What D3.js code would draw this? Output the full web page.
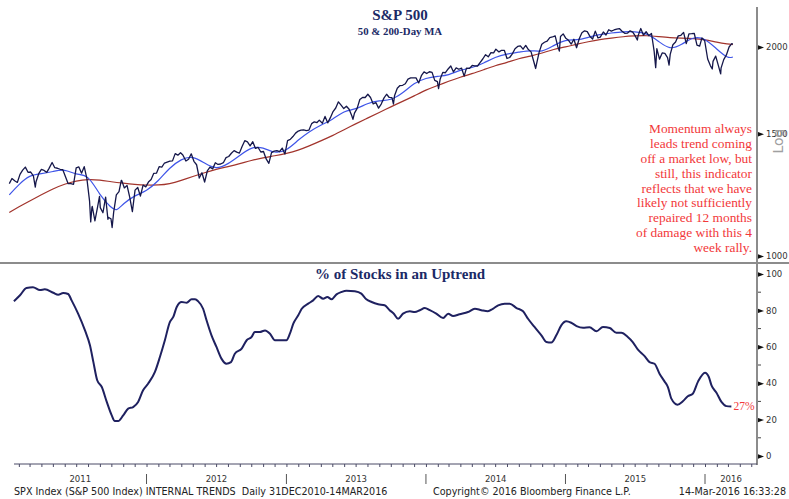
<!DOCTYPE html>
<html lang="en">
  <head>
    <meta charset="utf-8">
    <title>S&P 500 - Internal Trends</title>
    <script src="https://cdn.jsdelivr.net/npm/d3@7"></script>
    <style>
      body { margin: 0; background: white; }
    </style>
  </head>

  <body>
    <div id="container"></div>
  </body>

<script>
    // weekly closes of the S&P 500 (plus a few daily extremes)
    const spx2011 = [
      ["2011-01-07",1271.5],["2011-01-14",1293.2],["2011-01-21",1283.4],["2011-01-28",1276.3],
      ["2011-02-04",1310.9],["2011-02-11",1329.2],["2011-02-18",1343.0],["2011-02-25",1319.9],
      ["2011-03-04",1321.2],["2011-03-11",1304.3],["2011-03-16",1256.9],["2011-03-18",1279.2],["2011-03-25",1313.8],
      ["2011-04-01",1332.4],["2011-04-08",1328.2],["2011-04-15",1319.7],["2011-04-21",1337.4],["2011-04-29",1363.6],
      ["2011-05-06",1340.2],["2011-05-13",1337.8],["2011-05-20",1333.3],["2011-05-27",1331.1],
      ["2011-06-03",1300.2],["2011-06-10",1271.0],["2011-06-17",1271.5],["2011-06-24",1268.5],
      ["2011-07-01",1339.7],["2011-07-08",1343.8],["2011-07-15",1316.1],["2011-07-22",1345.0],["2011-07-29",1292.3],
      ["2011-08-05",1199.4],["2011-08-08",1119.5],["2011-08-11",1172.6],["2011-08-12",1178.8],["2011-08-19",1123.5],
      ["2011-08-26",1176.8],["2011-08-31",1218.9],["2011-09-02",1174.0],["2011-09-09",1154.2],["2011-09-16",1216.0],
      ["2011-09-22",1129.6],["2011-09-23",1136.4],["2011-09-30",1131.4],["2011-10-03",1099.2],["2011-10-07",1155.5],
      ["2011-10-14",1224.6],["2011-10-21",1238.3],["2011-10-27",1284.6],["2011-10-28",1285.1],
      ["2011-11-04",1253.2],["2011-11-11",1263.9],["2011-11-18",1215.7],["2011-11-25",1158.7],
      ["2011-12-02",1244.3],["2011-12-09",1255.2],["2011-12-16",1219.7],["2011-12-23",1265.3],["2011-12-30",1257.6]
    ];
    const spx2012 = [
      ["2012-01-06",1277.8],["2012-01-13",1289.1],["2012-01-20",1315.4],["2012-01-27",1316.3],
      ["2012-02-03",1344.9],["2012-02-10",1342.6],["2012-02-17",1361.2],["2012-02-24",1365.7],
      ["2012-03-02",1369.6],["2012-03-09",1370.9],["2012-03-16",1404.2],["2012-03-23",1397.1],["2012-03-30",1408.5],
      ["2012-04-05",1398.1],["2012-04-13",1370.3],["2012-04-20",1378.5],["2012-04-27",1403.4],
      ["2012-05-04",1369.1],["2012-05-11",1353.4],["2012-05-18",1295.2],["2012-05-25",1317.8],
      ["2012-06-01",1278.0],["2012-06-08",1325.7],["2012-06-15",1342.8],["2012-06-22",1335.0],["2012-06-29",1362.2],
      ["2012-07-06",1354.7],["2012-07-13",1356.8],["2012-07-20",1362.7],["2012-07-27",1386.0],
      ["2012-08-03",1391.0],["2012-08-10",1405.9],["2012-08-17",1418.2],["2012-08-24",1411.1],["2012-08-31",1406.6],
      ["2012-09-07",1437.9],["2012-09-14",1465.8],["2012-09-21",1460.2],["2012-09-28",1440.7],
      ["2012-10-05",1460.9],["2012-10-12",1428.6],["2012-10-19",1433.2],["2012-10-26",1411.9],
      ["2012-11-02",1414.2],["2012-11-09",1379.9],["2012-11-16",1359.9],["2012-11-23",1409.2],["2012-11-30",1416.2],
      ["2012-12-07",1418.1],["2012-12-14",1413.6],["2012-12-21",1430.2],["2012-12-28",1402.4]
    ];
    const spx2013 = [
      ["2013-01-04",1466.5],["2013-01-11",1472.1],["2013-01-18",1486.0],["2013-01-25",1503.0],
      ["2013-02-01",1513.2],["2013-02-08",1517.9],["2013-02-15",1519.8],["2013-02-22",1515.6],
      ["2013-03-01",1518.2],["2013-03-08",1551.2],["2013-03-15",1560.7],["2013-03-22",1556.9],["2013-03-28",1569.2],
      ["2013-04-05",1553.3],["2013-04-12",1588.9],["2013-04-19",1555.3],["2013-04-26",1582.2],
      ["2013-05-03",1614.4],["2013-05-10",1633.7],["2013-05-17",1667.5],["2013-05-24",1649.6],["2013-05-31",1630.7],
      ["2013-06-07",1643.4],["2013-06-14",1626.7],["2013-06-21",1592.4],["2013-06-24",1573.1],["2013-06-28",1606.3],
      ["2013-07-05",1631.9],["2013-07-12",1680.2],["2013-07-19",1692.1],["2013-07-26",1691.7],
      ["2013-08-02",1709.7],["2013-08-09",1691.4],["2013-08-16",1655.8],["2013-08-23",1663.5],["2013-08-30",1633.0],
      ["2013-09-06",1655.2],["2013-09-13",1688.0],["2013-09-20",1709.9],["2013-09-27",1691.8],
      ["2013-10-04",1690.5],["2013-10-08",1655.5],["2013-10-11",1703.2],["2013-10-18",1744.5],["2013-10-25",1759.8],
      ["2013-11-01",1761.6],["2013-11-08",1770.6],["2013-11-15",1798.2],["2013-11-22",1804.8],["2013-11-29",1805.8],
      ["2013-12-06",1805.1],["2013-12-13",1775.3],["2013-12-20",1818.3],["2013-12-27",1841.4]
    ];
    const spx2014 = [
      ["2014-01-03",1831.4],["2014-01-10",1842.4],["2014-01-17",1838.7],["2014-01-24",1790.3],["2014-01-31",1782.6],
      ["2014-02-03",1741.9],["2014-02-07",1797.0],["2014-02-14",1838.6],["2014-02-21",1836.3],["2014-02-28",1859.5],
      ["2014-03-07",1878.0],["2014-03-14",1841.1],["2014-03-21",1866.5],["2014-03-28",1857.6],
      ["2014-04-04",1865.1],["2014-04-11",1815.7],["2014-04-17",1864.9],["2014-04-25",1863.4],
      ["2014-05-02",1881.1],["2014-05-09",1878.5],["2014-05-16",1877.9],["2014-05-23",1900.5],["2014-05-30",1923.6],
      ["2014-06-06",1949.4],["2014-06-13",1936.2],["2014-06-20",1962.9],["2014-06-27",1961.0],
      ["2014-07-03",1985.4],["2014-07-11",1967.6],["2014-07-18",1978.2],["2014-07-25",1978.3],
      ["2014-08-01",1925.2],["2014-08-08",1931.6],["2014-08-15",1955.1],["2014-08-22",1988.4],["2014-08-29",2003.4],
      ["2014-09-05",2007.7],["2014-09-12",1985.5],["2014-09-19",2010.4],["2014-09-26",1982.9],
      ["2014-10-03",1967.9],["2014-10-10",1906.1],["2014-10-15",1862.5],["2014-10-17",1886.8],["2014-10-24",1964.6],["2014-10-31",2018.1],
      ["2014-11-07",2031.9],["2014-11-14",2039.8],["2014-11-21",2063.5],["2014-11-28",2067.6],
      ["2014-12-05",2075.4],["2014-12-12",2002.3],["2014-12-16",1972.7],["2014-12-19",2070.7],["2014-12-26",2088.8]
    ];
    const spx2015 = [
      ["2015-01-02",2058.2],["2015-01-09",2044.8],["2015-01-16",2019.4],["2015-01-23",2051.8],["2015-01-30",1995.0],
      ["2015-02-06",2055.5],["2015-02-13",2097.0],["2015-02-20",2110.3],["2015-02-27",2104.5],
      ["2015-03-06",2071.3],["2015-03-13",2053.4],["2015-03-20",2108.1],["2015-03-27",2061.0],
      ["2015-04-02",2067.0],["2015-04-10",2102.1],["2015-04-17",2081.2],["2015-04-24",2117.7],
      ["2015-05-01",2108.3],["2015-05-08",2116.1],["2015-05-15",2122.7],["2015-05-22",2126.1],["2015-05-29",2107.4],
      ["2015-06-05",2092.8],["2015-06-12",2094.1],["2015-06-19",2110.0],["2015-06-26",2101.5],
      ["2015-07-02",2076.8],["2015-07-08",2046.7],["2015-07-10",2076.6],["2015-07-17",2126.6],["2015-07-24",2079.7],["2015-07-31",2103.8],
      ["2015-08-07",2077.6],["2015-08-14",2091.5],["2015-08-21",1970.9],["2015-08-25",1867.6],["2015-08-28",1988.9],
      ["2015-09-04",1921.2],["2015-09-11",1961.1],["2015-09-18",1958.0],["2015-09-25",1931.3],["2015-09-29",1884.1],
      ["2015-10-02",1951.4],["2015-10-09",2014.9],["2015-10-16",2033.1],["2015-10-23",2075.2],["2015-10-30",2079.4],
      ["2015-11-06",2099.2],["2015-11-13",2023.0],["2015-11-20",2089.2],["2015-11-27",2090.1],
      ["2015-12-04",2091.7],["2015-12-11",2012.4],["2015-12-18",2005.6],["2015-12-24",2061.0],["2015-12-31",2043.9]
    ];
    const spx2016 = [
      ["2016-01-08",1922.0],["2016-01-15",1880.3],["2016-01-20",1859.3],["2016-01-22",1906.9],["2016-01-29",1940.2],
      ["2016-02-05",1880.1],["2016-02-11",1829.1],["2016-02-12",1864.8],["2016-02-19",1917.8],["2016-02-26",1948.1],
      ["2016-03-04",2000.0],["2016-03-11",2022.2],["2016-03-14",2019.6]
    ];

    // 50-day moving average
    const ma50 = [
      ["2011-01-07",1225],["2011-02-01",1268],["2011-03-01",1308],["2011-04-01",1313],["2011-05-01",1323],
      ["2011-06-01",1335],["2011-07-01",1308],["2011-08-01",1312],["2011-09-01",1222],["2011-10-01",1172],
      ["2011-10-15",1160],["2011-11-01",1190],["2011-12-01",1222],["2012-01-01",1240],["2012-02-01",1282],
      ["2012-03-01",1340],["2012-04-01",1380],["2012-05-01",1394],["2012-06-01",1360],["2012-07-01",1332],
      ["2012-08-01",1356],["2012-09-01",1396],["2012-10-01",1436],["2012-11-01",1435],["2012-12-01",1405],
      ["2013-01-01",1417],["2013-02-01",1470],["2013-03-01",1510],["2013-04-01",1545],["2013-05-01",1570],
      ["2013-06-01",1620],["2013-07-01",1625],["2013-08-01",1660],["2013-09-01",1675],["2013-10-01",1675],
      ["2013-11-01",1715],["2013-12-01",1775],["2014-01-01",1805],["2014-02-01",1815],["2014-03-01",1820],
      ["2014-04-01",1855],["2014-05-01",1865],["2014-06-01",1895],["2014-07-01",1935],["2014-08-01",1955],
      ["2014-09-01",1965],["2014-10-01",1980],["2014-11-01",1965],["2014-12-01",2010],["2015-01-01",2050],
      ["2015-02-01",2045],["2015-03-01",2065],["2015-04-01",2085],["2015-05-01",2095],["2015-06-01",2105],
      ["2015-07-01",2105],["2015-08-01",2095],["2015-09-01",2040],["2015-10-01",1980],["2015-11-01",2015],
      ["2015-12-01",2070],["2016-01-01",2060],["2016-02-01",1985],["2016-03-01",1925],["2016-03-14",1935]
    ];

    // 200-day moving average
    const ma200 = [
      ["2011-01-07",1155],["2011-02-01",1178],["2011-03-01",1200],["2011-04-01",1225],["2011-05-01",1250],
      ["2011-06-01",1270],["2011-07-01",1283],["2011-08-01",1290],["2011-09-01",1287],["2011-10-01",1279],
      ["2011-11-01",1273],["2011-12-01",1268],["2012-01-01",1265],["2012-02-01",1265],["2012-03-01",1270],
      ["2012-04-01",1285],["2012-05-01",1302],["2012-06-01",1318],["2012-07-01",1333],["2012-08-01",1345],
      ["2012-09-01",1358],["2012-10-01",1373],["2012-11-01",1385],["2012-12-01",1394],["2013-01-01",1405],
      ["2013-02-01",1420],["2013-03-01",1440],["2013-04-01",1465],["2013-05-01",1490],["2013-06-01",1520],
      ["2013-07-01",1550],["2013-08-01",1580],["2013-09-01",1610],["2013-10-01",1640],["2013-11-01",1670],
      ["2013-12-01",1700],["2014-01-01",1735],["2014-02-01",1760],["2014-03-01",1785],["2014-04-01",1810],
      ["2014-05-01",1830],["2014-06-01",1855],["2014-07-01",1880],["2014-08-01",1900],["2014-09-01",1925],
      ["2014-10-01",1940],["2014-11-01",1960],["2014-12-01",1985],["2015-01-01",2000],["2015-02-01",2020],
      ["2015-03-01",2035],["2015-04-01",2050],["2015-05-01",2060],["2015-06-01",2070],["2015-07-01",2075],
      ["2015-08-01",2078],["2015-09-01",2070],["2015-10-01",2062],["2015-11-01",2060],["2015-12-01",2058],
      ["2016-01-01",2050],["2016-02-01",2032],["2016-03-01",2020],["2016-03-14",2016]
    ];

    // % of stocks in an uptrend
    const uptrend = [
      ["2011-01-19",85],["2011-02-04",88.3],["2011-02-21",92.3],["2011-03-10",92.7],["2011-03-28",91.2],
      ["2011-04-10",91.6],["2011-05-02",89.7],["2011-05-15",88.6],["2011-05-28",89.6],["2011-06-10",89],
      ["2011-06-19",85.5],["2011-07-06",78.2],["2011-07-24",69],["2011-08-06",60.8],["2011-08-15",51.6],
      ["2011-08-25",41.6],["2011-09-06",37.9],["2011-09-19",29.7],["2011-10-02",22.3],["2011-10-10",19.2],
      ["2011-10-19",19.2],["2011-11-01",22.3],["2011-11-14",26],["2011-11-27",26.9],["2011-12-10",29.7],
      ["2011-12-23",36.1],["2012-01-05",39.7],["2012-01-23",46.2],["2012-02-05",54.4],["2012-02-18",63.6],
      ["2012-03-02",73.6],["2012-03-11",76.4],["2012-03-20",81.9],["2012-04-02",84.6],["2012-04-15",84.2],
      ["2012-04-28",86.1],["2012-05-07",86.1],["2012-05-15",85],["2012-05-28",80.9],["2012-06-06",74.6],
      ["2012-06-19",66.3],["2012-07-02",59.9],["2012-07-15",53.5],["2012-07-28",50.7],["2012-08-09",51.6],
      ["2012-08-19",56.2],["2012-09-06",59],["2012-09-19",63.6],["2012-10-02",65.4],["2012-10-10",68.1],
      ["2012-10-23",68.1],["2012-11-06",69],["2012-11-19",67.2],["2012-12-02",63.6],["2012-12-15",63.6],
      ["2013-01-01",63.6],["2013-01-10",67.2],["2013-01-19",72.7],["2013-02-01",77.3],["2013-02-10",80.9],
      ["2013-02-27",83.7],["2013-03-12",85.5],["2013-03-25",87.9],["2013-04-07",86.4],["2013-04-18",87.4],
      ["2013-04-29",86.1],["2013-05-12",88.8],["2013-05-25",90.1],["2013-06-07",90.8],["2013-06-29",90.5],
      ["2013-07-16",89.2],["2013-07-29",86.1],["2013-08-12",84.6],["2013-08-29",83.4],["2013-09-15",82.8],
      ["2013-09-28",80.1],["2013-10-09",78.2],["2013-10-20",75.4],["2013-11-02",78.2],["2013-11-20",79.5],
      ["2013-12-03",79.1],["2013-12-16",80.1],["2013-12-29",81.3],["2014-01-11",80.1],["2014-01-28",78.2],
      ["2014-02-15",75.8],["2014-02-28",78.2],["2014-03-13",76.9],["2014-03-30",77.9],["2014-04-21",79.1],
      ["2014-05-09",80.9],["2014-05-26",80.1],["2014-06-12",79.5],["2014-06-25",80.9],["2014-07-09",82.8],
      ["2014-07-26",83.7],["2014-08-08",83.7],["2014-08-26",81.3],["2014-09-12",79.5],["2014-09-25",75.4],
      ["2014-10-12",70.9],["2014-10-30",66.3],["2014-11-12",62.6],["2014-11-25",62.3],["2014-12-08",66.3],
      ["2014-12-21",71.8],["2015-01-03",74],["2015-01-16",73.2],["2015-01-30",71.4],["2015-02-16",70.5],
      ["2015-03-05",70.7],["2015-03-23",68.5],["2015-04-09",70.9],["2015-04-27",70.3],["2015-05-14",67.7],
      ["2015-05-27",67.7],["2015-06-13",65.4],["2015-06-26",62.6],["2015-07-09",58.6],["2015-07-27",54.9],
      ["2015-08-09",51.6],["2015-08-22",50.7],["2015-09-04",45.2],["2015-09-17",41],["2015-09-26",37.9],
      ["2015-10-05",31.5],["2015-10-21",28.2],["2015-11-04",30.1],["2015-11-17",32.8],["2015-11-30",34.2],
      ["2015-12-14",41],["2016-01-01",45.8],["2016-01-11",43.4],["2016-01-18",38.8],["2016-01-31",34.8],
      ["2016-02-13",29.7],["2016-02-26",27.4],["2016-03-10",27.2]
    ];

    const spxTicks = [1000, 1500, 2000];
    const pctTicks = [0, 20, 40, 60, 80, 100];
    const pctMinor = [10, 30, 50, 70, 90];
    const years = [2011, 2012, 2013, 2014, 2015, 2016];
    const noteLines = ["Momentum always", "leads trend coming", "off a market low, but",
      "still, this indicator", "reflects that we have", "likely not sufficiently",
      "repaired 12 months", "of damage with this 4", "week rally."];

    const W = 789, H = 499;
    const axisX = 757, plotLeft = 14, bottomY = 464;
    const navy = "#1b2a66";
    const serif = "'Liberation Serif', 'Times New Roman', serif";
    const sans = "'DejaVu Sans', Verdana, sans-serif";
    const parse = d3.timeParse("%Y-%m-%d");

    const spx = [].concat(spx2011, spx2012, spx2013, spx2014, spx2015, spx2016);

    const svg = d3.select("#container").append("svg")
      .attr("width", W).attr("height", H)
      .style("display", "block");

    const x = d3.scaleTime()
      .domain([new Date(2011, 0, 1), new Date(2016, 0, 1)])
      .range([7, 705]);
    const yTop = d3.scaleLog().domain([1000, 2000]).range([256, 47]);
    const yBot = d3.scaleLinear().domain([0, 100]).range([456, 274]);

    // titles
    svg.append("text").attr("x", 400).attr("y", 20).attr("text-anchor", "middle")
      .style("font", `bold 15px ${serif}`).attr("fill", navy).text("S&P 500");
    svg.append("text").attr("x", 400).attr("y", 35).attr("text-anchor", "middle")
      .style("font", `bold 10.8px ${serif}`).attr("fill", navy).text("50 & 200-Day MA");

    // lines in the top panel
    const lineTop = d3.line()
      .x(d => x(parse(d[0])))
      .y(d => yTop(d[1]));
    const lineTopSmooth = d3.line()
      .curve(d3.curveBasis)
      .x(d => x(parse(d[0])))
      .y(d => yTop(d[1]));

    svg.append("path").datum(ma200).attr("d", lineTopSmooth)
      .attr("fill", "none").attr("stroke", "#a2342c").attr("stroke-width", 1.2);
    svg.append("path").datum(ma50).attr("d", lineTopSmooth)
      .attr("fill", "none").attr("stroke", "#3f55e8").attr("stroke-width", 1.2);
    svg.append("path").datum(spx).attr("d", lineTop)
      .attr("fill", "none").attr("stroke", "#15174a").attr("stroke-width", 1.3)
      .attr("stroke-linejoin", "round");

    // note
    svg.append("g").selectAll("text")
      .data(noteLines)
      .enter()
      .append("text")
        .attr("x", 752)
        .attr("y", (d, i) => 133.3 + i * 14.8)
        .attr("text-anchor", "end")
        .style("font", `13.4px ${serif}`)
        .attr("fill", "#f2383a")
        .text(d => d);

    // lower panel
    svg.append("text").attr("x", 400).attr("y", 279).attr("text-anchor", "middle")
      .style("font", `bold 15px ${serif}`).attr("fill", navy).text("% of Stocks in an Uptrend");

    const lineBot = d3.line()
      .curve(d3.curveMonotoneX)
      .x(d => x(parse(d[0])))
      .y(d => yBot(d[1]));
    svg.append("path").datum(uptrend).attr("d", lineBot)
      .attr("fill", "none").attr("stroke", "#1f2160").attr("stroke-width", 2);

    const last = uptrend[uptrend.length - 1];
    svg.append("text")
      .attr("x", x(parse(last[0])) + 2)
      .attr("y", yBot(last[1]) + 4)
      .style("font", `11.5px ${serif}`)
      .attr("fill", "#f2383a")
      .text(Math.round(last[1]) + "%");

    // panel separator
    svg.append("line").attr("x1", 0).attr("x2", W).attr("y1", 263).attr("y2", 263)
      .attr("stroke", "#8c8c8c").attr("stroke-width", 2);

    // right axes
    svg.append("line").attr("x1", axisX).attr("x2", axisX).attr("y1", 7).attr("y2", bottomY + 1)
      .attr("stroke", "#8c8c8c").attr("stroke-width", 2);

    function styleAxis(g) {
      g.select(".domain").remove();
      g.selectAll(".tick line").remove();
      g.selectAll(".tick").append("path")
        .attr("d", "M0,-2.2L6,0L0,2.2Z")
        .attr("fill", "#111");
      g.selectAll(".tick text")
        .style("font", `8.5px ${sans}`)
        .attr("fill", "#333");
    }

    svg.append("g")
      .attr("transform", `translate(${axisX + 1}, 0)`)
      .call(d3.axisRight(yTop).tickValues(spxTicks).tickFormat(d3.format("d")).tickSize(0).tickPadding(8))
      .call(styleAxis);

    svg.append("g")
      .attr("transform", `translate(${axisX + 1}, 0)`)
      .call(d3.axisRight(yBot).tickValues(pctTicks).tickSize(0).tickPadding(8))
      .call(styleAxis);

    svg.append("g").selectAll("line")
      .data(pctMinor)
      .enter()
      .append("line")
        .attr("x1", axisX + 1).attr("x2", axisX + 4)
        .attr("y1", d => yBot(d)).attr("y2", d => yBot(d))
        .attr("stroke", "#444").attr("stroke-width", 1);

    svg.append("text")
      .attr("transform", `translate(783, 141) rotate(-90)`)
      .attr("text-anchor", "middle")
      .style("font", `14px ${sans}`)
      .attr("fill", "#a0a0a0")
      .text("Log");

    // bottom time axis
    const xAxisScale = x.copy()
      .domain([x.invert(plotLeft), x.invert(axisX)])
      .range([plotLeft, axisX]);
    svg.append("g")
      .attr("transform", `translate(0, ${bottomY})`)
      .call(d3.axisBottom(xAxisScale).ticks(d3.timeMonth.every(1)).tickSize(3).tickFormat(""))
      .call(g => g.select(".domain").attr("stroke", "#4a4a66").attr("d", `M${plotLeft},0H${axisX}`))
      .call(g => g.selectAll(".tick line").attr("stroke", "#4a4a66"));

    svg.append("g").selectAll("text")
      .data(years)
      .enter()
      .append("text")
        .attr("x", d => {
          const a = Math.max(x(new Date(d, 0, 1)), plotLeft);
          const b = Math.min(x(new Date(d + 1, 0, 1)), axisX);
          return (a + b) / 2;
        })
        .attr("y", 482)
        .attr("text-anchor", "middle")
        .style("font", `8.5px ${sans}`)
        .attr("fill", "#333")
        .text(d => d);

    svg.append("g").selectAll("line")
      .data(years.slice(1))
      .enter()
      .append("line")
        .attr("x1", d => x(new Date(d, 0, 1))).attr("x2", d => x(new Date(d, 0, 1)))
        .attr("y1", 474).attr("y2", 484)
        .attr("stroke", "#555").attr("stroke-width", 1);

    // footer
    const footer = svg.append("g").style("font", `9.6px ${sans}`).attr("fill", "#222");
    footer.append("text").attr("x", 14).attr("y", 495)
      .attr("xml:space", "preserve")
      .text("SPX Index (S&P 500 Index) INTERNAL TRENDS  Daily 31DEC2010-14MAR2016");
    footer.append("text").attr("x", 433).attr("y", 495)
      .text("Copyright\u00a9 2016 Bloomberg Finance L.P.");
    footer.append("text").attr("x", 786).attr("y", 495).attr("text-anchor", "end")
      .text("14-Mar-2016 16:33:28");
</script>
</html>
